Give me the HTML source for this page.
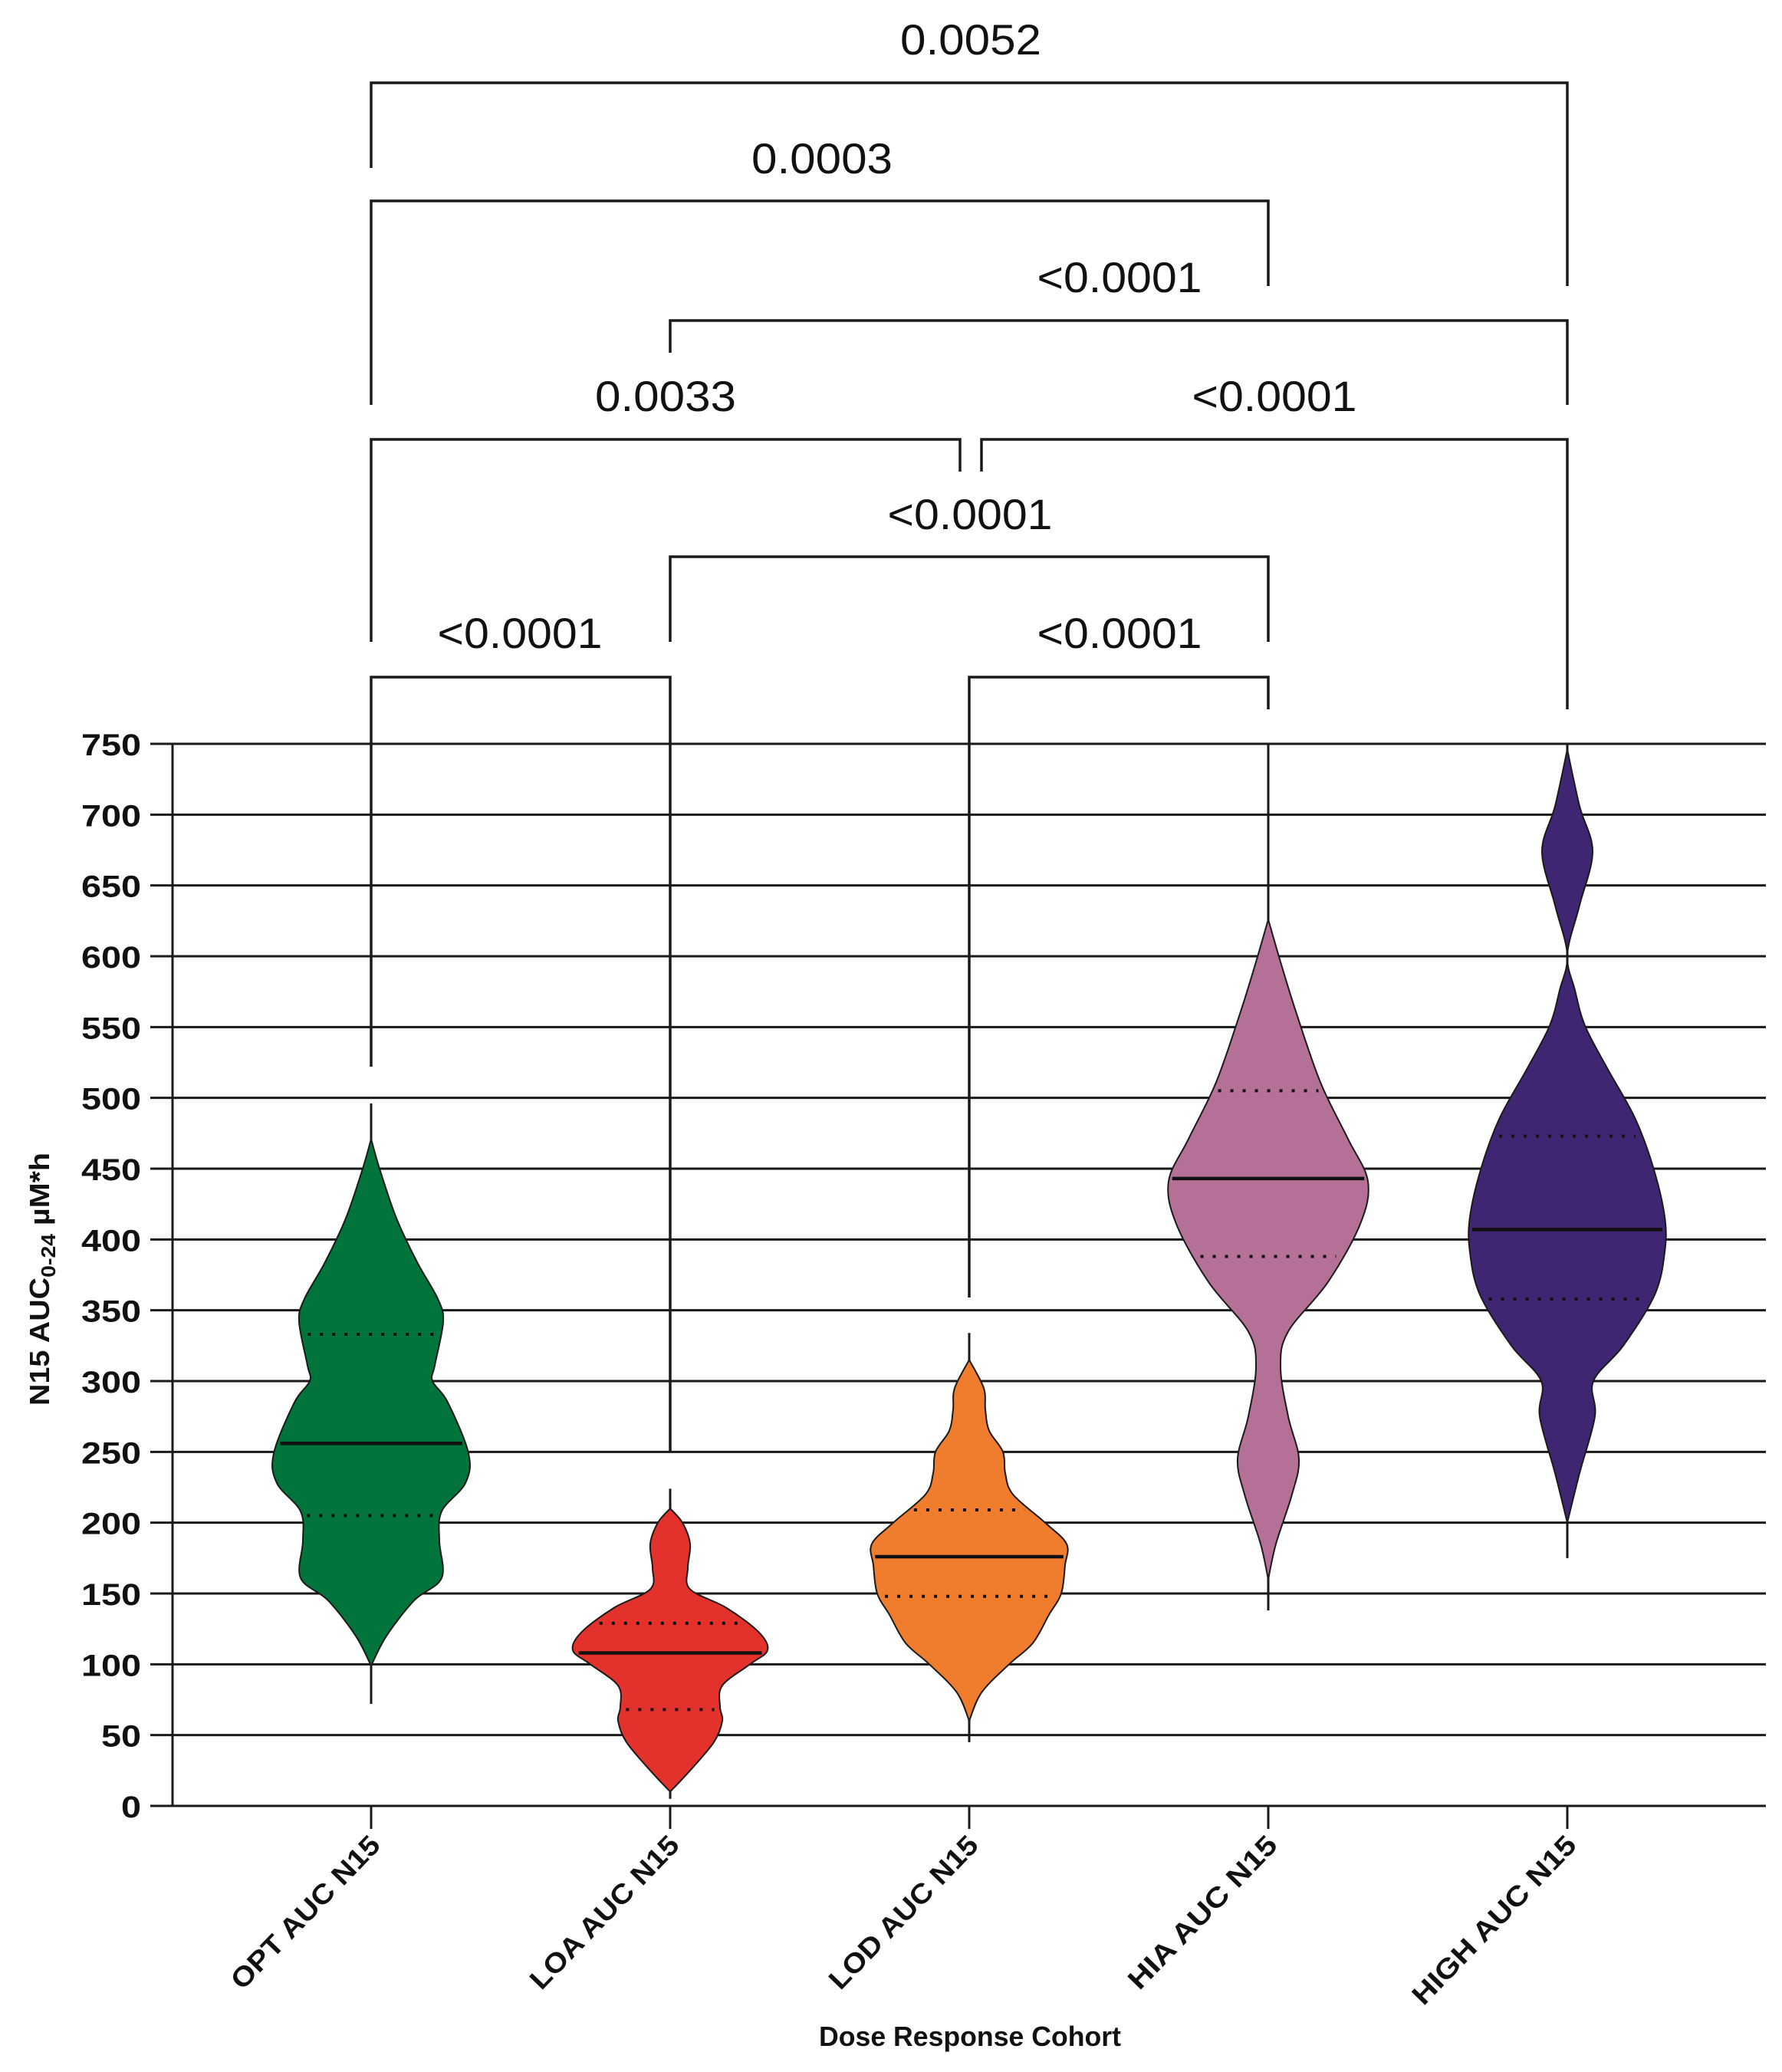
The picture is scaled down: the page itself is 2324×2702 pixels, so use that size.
<!DOCTYPE html>
<html><head><meta charset="utf-8"><style>
html,body{margin:0;padding:0;background:#fff}
svg{display:block}
text{font-family:"Liberation Sans",sans-serif;fill:#111}
</style></head><body>
<svg id="chart" width="2324" height="2702" viewBox="0 0 2324 2702" xmlns="http://www.w3.org/2000/svg">
<g id="grid"></g>
<g id="yaxis"></g>
<g id="xaxis"></g>
<g id="whiskers"></g>
<g id="violins"></g>
<g id="brackets"></g>
<text transform="translate(64,1668) rotate(-90)" text-anchor="middle" font-size="36" font-weight="bold" textLength="330" lengthAdjust="spacingAndGlyphs">N15 AUC<tspan font-size="26" dy="8">0-24</tspan><tspan dy="-8"> µM*h</tspan></text>
<text x="1265" y="2668" text-anchor="middle" font-size="36" font-weight="bold" textLength="394" lengthAdjust="spacingAndGlyphs">Dose Response Cohort</text>
</svg>
<script>
const categories = ["OPT AUC N15","LOA AUC N15","LOD AUC N15","HIA AUC N15","HIGH AUC N15"];
const colors = ["#00743a","#e3312b","#ef7d2d","#b57097","#3f2572"];
const yTicks = [0,50,100,150,200,250,300,350,400,450,500,550,600,650,700,750];
const medians = [256,108,176,443,407];
const q1 = [205,68,148,388,358];
const q3 = [333,129,209,505,473];
const whiskerMin = [72,5,45,138,175];
const whiskerMax = [496,224,334,750,750];
// density profiles: sampled values and half-widths
const optVals = [471,450,415,384,358,342,311,300,285,249,228,208,187,161,145,120,99];
const optDens = [0,11,33,60,87,94,83,80,100,127,123,92,89,92,56,20,0];
const loaVals = [210,200,185,168,153,140,123,110,100,85,70,60,45,25,10];
const loaDens = [0,16,26,23,26,73,115,127,104,68,65,68,57,26,0];
const lodVals = [315,295,280,265,250,235,220,200,185,170,150,135,115,100,80,60];
const lodDens = [0,19,21,26,44,47,57,99,127,125,120,104,83,52,16,0];
const hiaVals = [626,596,561,511,471,441,411,370,335,310,275,245,220,185,160];
const hiaDens = [0,16,36,68,104,130,120,78,26,16,26,40,31,10,0];
const highVals = [746,706,674,636,601,576,551,521,486,451,416,391,361,325,300,275,235,200];
const highDens = [0,16,33,16,0,10,23,52,88,112,127,127,114,73,34,36,16,0];
const violinVals = [optVals,loaVals,lodVals,hiaVals,highVals];
const violinDens = [optDens,loaDens,lodDens,hiaDens,highDens];
const bracketLabels = ["0.0052","0.0003","<0.0001","0.0033","<0.0001","<0.0001","<0.0001","<0.0001"];

const NS="http://www.w3.org/2000/svg";
const X0=484, XSTEP=390;
const xPos=i=>X0+i*XSTEP;
const Y0=2355, Y750=970;
const yPos=v=>Y0-(v/750)*(Y0-Y750);
const PL=225, PR=2303;
function mk(tag,attrs,parent){const e=document.createElementNS(NS,tag);for(const k in attrs)e.setAttribute(k,attrs[k]);parent.appendChild(e);return e;}

const grid=document.getElementById('grid'), yax=document.getElementById('yaxis'), xax=document.getElementById('xaxis');
yTicks.forEach(t=>{
  const y=yPos(t);
  const l=mk('line',{x1:PL,x2:PR,y1:y,y2:y,stroke:'#1a1a1a','stroke-width':3},grid);
  
  
  const tk=mk('line',{x1:196,x2:PL,y1:y,y2:y,stroke:'#1a1a1a','stroke-width':3},yax);
  
  
  const s=String(t);
  const tx=mk('text',{x:184,y:y+15,'text-anchor':'end','font-size':40,'font-weight':'bold',textLength:26*s.length,lengthAdjust:'spacingAndGlyphs'},yax);
  tx.textContent=s;
  
  
});
const ya=mk('line',{x1:PL,x2:PL,y1:Y750,y2:Y0,stroke:'#1a1a1a','stroke-width':3},yax);



categories.forEach((c,i)=>{
  const x=xPos(i);
  const tk=mk('line',{x1:x,x2:x,y1:Y0,y2:2385,stroke:'#1a1a1a','stroke-width':3},xax);
  
  
  const t=mk('text',{transform:`translate(${x+14},${2408}) rotate(-46)`,'text-anchor':'end','font-size':36,'font-weight':'bold',textLength:c.length>11?290:262,lengthAdjust:'spacingAndGlyphs'},xax);
  t.textContent=c;
  
  
});

const wg=document.getElementById('whiskers'), vg=document.getElementById('violins');
function smoothSide(pts){
  let d='';
  for(let i=0;i<pts.length-1;i++){
    const p0=pts[Math.max(0,i-1)],p1=pts[i],p2=pts[i+1],p3=pts[Math.min(pts.length-1,i+2)];
    const c1=[p1[0]+(p2[0]-p0[0])/6,p1[1]+(p2[1]-p0[1])/6];
    const c2=[p2[0]-(p3[0]-p1[0])/6,p2[1]-(p3[1]-p1[1])/6];
    d+=`C${c1[0]},${c1[1]} ${c2[0]},${c2[1]} ${p2[0]},${p2[1]}`;
  }
  return d;
}
function halfWidthAt(i,v){
  const vs=violinVals[i], ds=violinDens[i];
  for(let k=0;k<vs.length-1;k++){ if(v<=vs[k]&&v>=vs[k+1]){const f=(vs[k]-v)/(vs[k]-vs[k+1]);return ds[k]+(ds[k+1]-ds[k])*f;} }
  return 0;
}
categories.forEach((c,i)=>{
  const x=xPos(i);
  const w=mk('line',{x1:x,x2:x,y1:yPos(whiskerMax[i]),y2:yPos(whiskerMin[i]),stroke:'#1a1a1a','stroke-width':3},wg);
  
  
  const vs=violinVals[i], ds=violinDens[i];
  const right=vs.map((v,k)=>[x+ds[k],yPos(v)]);
  const left=vs.map((v,k)=>[x-ds[k],yPos(v)]).reverse();
  const d=`M${right[0][0]},${right[0][1]}`+smoothSide(right)+`L${left[0][0]},${left[0][1]}`+smoothSide(left)+'Z';
  const p=mk('path',{d:d,fill:colors[i],stroke:'#1a1a1a','stroke-width':2},vg);
  
  
  const mw=halfWidthAt(i,medians[i])-3;
  const m=mk('line',{x1:x-mw,x2:x+mw,y1:yPos(medians[i]),y2:yPos(medians[i]),stroke:'#111','stroke-width':4.5},vg);
  
  
  [q1[i],q3[i]].forEach((q,k)=>{
    const qw=halfWidthAt(i,q)-8;
    const ql=mk('line',{x1:x-qw,x2:x+qw,y1:yPos(q),y2:yPos(q),stroke:'#111','stroke-width':4,'stroke-dasharray':'4 12'},vg);
    
    
  });
});

const bg=document.getElementById('brackets');
const brk=[
 [xPos(0),xPos(4),108,219,373,1266,71,0,184],
 [xPos(0),xPos(3),262,528,373,1072,226,1,184],
 [xPos(1),xPos(4),418,460,528,1460,381,2,215],
 [xPos(0),1252,573,837,615,868,536,3,184],
 [1280,xPos(4),573,615,925,1662,536,4,215],
 [xPos(1),xPos(3),726,837,837,1265,690,5,215],
 [xPos(0),xPos(1),883,1391,1893,678,845,6,215],
 [xPos(2),xPos(3),883,1692,925,1460,845,7,215]
];
brk.forEach((b,k)=>{
  const p=mk('path',{d:`M${b[0]},${b[3]}V${b[2]}H${b[1]}V${b[4]}`,fill:'none',stroke:'#1a1a1a','stroke-width':3.5},bg);
  
  
  const t=mk('text',{x:b[5],y:b[6],'text-anchor':'middle','font-size':56,textLength:b[8],lengthAdjust:'spacingAndGlyphs'},bg);
  t.textContent=bracketLabels[b[7]];
  
  
});
</script>
</body></html>
